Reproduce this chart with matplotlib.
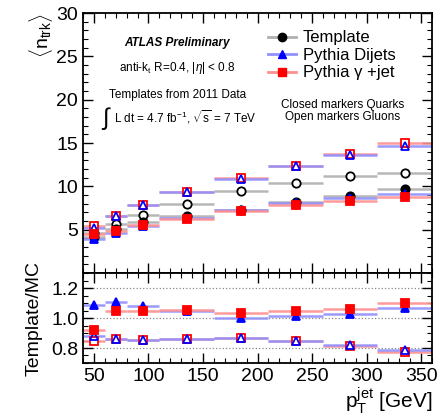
import matplotlib
matplotlib.use('Agg')
import matplotlib.pyplot as plt
import numpy as np
from matplotlib.lines import Line2D
from matplotlib.ticker import MultipleLocator

plt.rcParams['font.family'] = ['Liberation Sans', 'DejaVu Sans']
plt.rcParams['mathtext.fontset'] = 'custom'
plt.rcParams['mathtext.rm'] = 'Liberation Sans'
plt.rcParams['mathtext.it'] = 'Liberation Sans:italic'

# jet pT bins (GeV)
pt = np.array([50, 70, 95, 135, 185, 235, 285, 335])
bin_lo = np.array([40, 60, 80, 110, 160, 210, 260, 310])
bin_hi = np.array([60, 80, 110, 160, 210, 260, 310, 360])

# mean track multiplicity, quarks (closed) and gluons (open)
template_q = [4.2, 5.1, 5.85, 6.6, 7.3, 8.15, 8.85, 9.65]
template_g = [4.6, 5.7, 6.7, 8.0, 9.45, 10.4, 11.15, 11.5]
dijet_q = [3.9, 4.6, 5.45, 6.3, 7.3, 8.05, 8.7, 9.1]
dijet_g = [5.25, 6.6, 7.8, 9.3, 10.9, 12.35, 13.65, 14.7]
gjet_q = [4.55, 4.85, 5.55, 6.25, 7.1, 7.8, 8.35, 8.75]
gjet_g = [5.4, 6.6, 7.8, 9.3, 11.0, 12.4, 13.7, 15.0]

# Template / MC ratios
ratio_dijet_q = [1.085, 1.11, 1.08, 1.05, 1.00, 1.015, 1.03, 1.065]
ratio_gjet_q = [0.92, 1.05, 1.05, 1.055, 1.035, 1.045, 1.06, 1.10]
ratio_dijet_g = [0.88, 0.86, 0.855, 0.86, 0.867, 0.845, 0.817, 0.79]
ratio_gjet_g = [0.85, 0.86, 0.855, 0.86, 0.867, 0.845, 0.815, 0.775]

xerr = [pt - bin_lo, bin_hi - pt]

BLACK_LINE = '#b0b0b0'
BLUE_LINE = '#9090ff'
RED_LINE = '#ff9090'
ms = 6


def draw(ax, y, line_col, mcol, marker, face):
    # face: marker fill colour ('none' or 'white' for open markers)
    ax.errorbar(pt, y, xerr=xerr, fmt='none', ecolor=line_col, elinewidth=1.8, alpha=0.9, zorder=2)
    ax.plot(pt, y, linestyle='none', marker=marker, markersize=ms,
            markerfacecolor=face, markeredgecolor=mcol,
            markeredgewidth=1.3, zorder=3)


fig = plt.figure(figsize=(4.47, 4.17), dpi=100)
ax = fig.add_axes([0.1857, 0.3453, 0.7808, 0.6235])
axr = fig.add_axes([0.1857, 0.1295, 0.7808, 0.2158], sharex=ax)

# upper panel
draw(ax, template_g, BLACK_LINE, 'black', 'o', 'white')
draw(ax, gjet_g, RED_LINE, 'red', 's', 'white')
draw(ax, dijet_g, BLUE_LINE, 'blue', '^', 'none')
draw(ax, template_q, BLACK_LINE, 'black', 'o', 'black')
draw(ax, dijet_q, BLUE_LINE, 'blue', '^', 'blue')
draw(ax, gjet_q, RED_LINE, 'red', 's', 'red')

ax.set_xlim(40, 360)
ax.set_ylim(0, 30)
ax.set_yticks([5, 10, 15, 20, 25, 30])
ax.yaxis.set_minor_locator(MultipleLocator(1))
ax.tick_params(labelbottom=False)
ax.set_ylabel(r'$\langle$n$_{\rm trk}\rangle$', fontsize=14, loc='top', labelpad=1)

# lower panel
for yv in [0.8, 1.0, 1.2]:
    axr.axhline(yv, color='#888888', linestyle=':', linewidth=0.9, zorder=1)
draw(axr, ratio_gjet_g, RED_LINE, 'red', 's', 'white')
draw(axr, ratio_dijet_g, BLUE_LINE, 'blue', '^', 'none')
draw(axr, ratio_dijet_q, BLUE_LINE, 'blue', '^', 'blue')
draw(axr, ratio_gjet_q, RED_LINE, 'red', 's', 'red')
axr.set_ylim(0.7, 1.3)
axr.set_yticks([0.8, 1.0, 1.2])
axr.yaxis.set_minor_locator(MultipleLocator(0.05))
axr.set_ylabel('Template/MC', fontsize=14, labelpad=6)
axr.set_xlabel(r'p$_{\rm T}^{\rm jet}$ [GeV]', fontsize=15, loc='right', labelpad=0)
axr.xaxis.set_major_locator(MultipleLocator(50))
axr.xaxis.set_minor_locator(MultipleLocator(10))

for a in (ax, axr):
    a.tick_params(which='both', direction='in', top=True, right=True, labelsize=14)
    a.tick_params(which='major', length=7, width=1)
    a.tick_params(which='minor', length=3.5, width=0.8)
    for s in a.spines.values():
        s.set_linewidth(1.3)

# annotations
ax.text(0.27, 0.885, 'ATLAS Preliminary', transform=ax.transAxes, ha='center', va='center',
        fontsize=8.5, fontweight='bold', style='italic')
ax.text(0.27, 0.79, r'anti-k$_{\rm t}$ R=0.4, |$\eta$| < 0.8', transform=ax.transAxes,
        ha='center', va='center', fontsize=8.5)
ax.text(0.27, 0.685, 'Templates from 2011 Data', transform=ax.transAxes,
        ha='center', va='center', fontsize=8.5)
ax.text(0.065, 0.595, '∫', transform=ax.transAxes, ha='center', va='center', fontsize=17)
ax.text(0.09, 0.60, r'L dt = 4.7 fb$^{-1}$, $\sqrt{\rm s}$ = 7 TeV', transform=ax.transAxes,
        ha='left', va='center', fontsize=8.5)
ax.text(0.745, 0.646, 'Closed markers Quarks', transform=ax.transAxes,
        ha='center', va='center', fontsize=8.5)
ax.text(0.745, 0.60, 'Open markers Gluons', transform=ax.transAxes,
        ha='center', va='center', fontsize=8.5)

handles = [
    Line2D([], [], color=BLACK_LINE, lw=2, marker='o', markersize=ms, mfc='black', mec='black'),
    Line2D([], [], color=BLUE_LINE, lw=2, marker='^', markersize=ms, mfc='blue', mec='blue'),
    Line2D([], [], color=RED_LINE, lw=2, marker='s', markersize=ms, mfc='red', mec='red'),
]
ax.legend(handles, ['Template', 'Pythia Dijets', 'Pythia γ +jet'],
          loc='upper left', bbox_to_anchor=(0.505, 0.965), frameon=False, fontsize=12,
          handlelength=1.7, handletextpad=0.4, labelspacing=0.15, borderpad=0)

fig.savefig('out.png', dpi=100)
